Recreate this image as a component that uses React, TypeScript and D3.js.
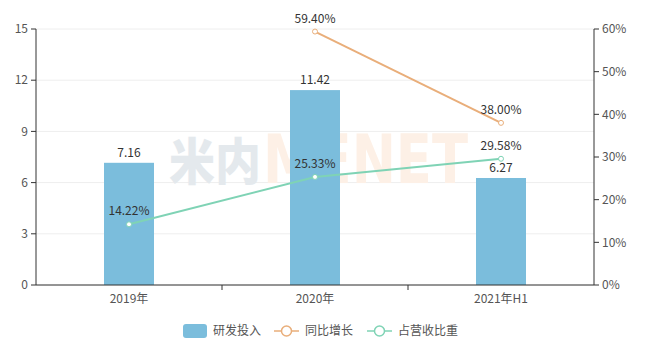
import React from "react";
import * as d3 from "d3";

const categories = ["2019年", "2020年", "2021年H1"];
const rdInvest = [7.16, 11.42, 6.27];
const yoyGrowth: (number | null)[] = [null, 59.4, 38.0];
const revenueShare = [14.22, 25.33, 29.58];
const leftTicks = [0, 3, 6, 9, 12, 15];
const rightTicks = [0, 10, 20, 30, 40, 50, 60];
const legendLabels = ["研发投入", "同比增长", "占营收比重"];

const W = 658, H = 358;
const M = { left: 36, right: 64, top: 29, bottom: 73 };
const BAR = "#7bbddc", ORANGE = "#e9ae7a", GREEN = "#7fd3b5";
const FONT = "'Noto Sans CJK SC', 'Noto Sans', sans-serif";

export default function App() {
  const x = d3.scaleBand().domain(categories).range([M.left, W - M.right]);
  const yL = d3.scaleLinear().domain([0, 15]).range([H - M.bottom, M.top]);
  const yR = d3.scaleLinear().domain([0, 60]).range([H - M.bottom, M.top]);
  const cx = (c: string) => (x(c) as number) + x.bandwidth() / 2;
  const barW = 50;
  const y0 = H - M.bottom;

  const yoyPts = categories.map((c, i) => ({ c, v: yoyGrowth[i] })).filter((d) => d.v != null) as { c: string; v: number }[];
  const sharePts = categories.map((c, i) => ({ c, v: revenueShare[i] }));
  const line = d3.line<{ c: string; v: number }>().x((d) => cx(d.c)).y((d) => yR(d.v));

  const textCol = "#555";
  return (
    <svg width={W} height={H} style={{ position: "absolute", left: 0, top: 0, fontFamily: FONT }}>
      <rect width={W} height={H} fill="#fff" />
      {/* grid */}
      {leftTicks.map((t) => (
        <line key={t} x1={M.left} x2={W - M.right} y1={yL(t)} y2={yL(t)} stroke="#eeeeee" />
      ))}
      {/* watermark */}
      <text x={169} y={180} fontSize={50} fontWeight="900" fill="#e4e9ed" fontFamily={FONT}
        textLength={92} lengthAdjust="spacingAndGlyphs">米内</text>
      <text x={263} y={183} fontSize={68} fontWeight="bold" fill="#fdf0e6" fontFamily="'DejaVu Sans', sans-serif"
        textLength={205} lengthAdjust="spacingAndGlyphs">MENET</text>
      {/* bars */}
      {categories.map((c, i) => (
        <g key={c}>
          <rect x={cx(c) - barW / 2} y={yL(rdInvest[i])} width={barW} height={y0 - yL(rdInvest[i])} fill={BAR} />
          <text x={cx(c)} y={yL(rdInvest[i]) - 6} textAnchor="middle" fontSize={12} fill="#333">{rdInvest[i].toFixed(2)}</text>
        </g>
      ))}
      {/* lines */}
      <path d={line(yoyPts) || ""} fill="none" stroke={ORANGE} strokeWidth={2} />
      <path d={line(sharePts) || ""} fill="none" stroke={GREEN} strokeWidth={2} />
      {yoyPts.map((d) => (
        <g key={"o" + d.c}>
          <circle cx={cx(d.c)} cy={yR(d.v)} r={2.5} fill="#fff" stroke={ORANGE} strokeWidth={1} />
          <text x={cx(d.c)} y={yR(d.v) - 9} textAnchor="middle" fontSize={12} fill="#333">{d.v.toFixed(2)}%</text>
        </g>
      ))}
      {sharePts.map((d) => (
        <g key={"g" + d.c}>
          <circle cx={cx(d.c)} cy={yR(d.v)} r={2.5} fill="#fff" stroke={GREEN} strokeWidth={1} />
          <text x={cx(d.c)} y={yR(d.v) - 9} textAnchor="middle" fontSize={12} fill="#333">{d.v.toFixed(2)}%</text>
        </g>
      ))}
      {/* left axis */}
      <line x1={M.left} x2={M.left} y1={M.top} y2={y0} stroke="#333" />
      {leftTicks.map((t) => (
        <g key={"l" + t}>
          <line x1={M.left - 5} x2={M.left} y1={yL(t)} y2={yL(t)} stroke="#333" />
          <text x={M.left - 8} y={yL(t)} dy="0.35em" textAnchor="end" fontSize={12} fill={textCol}>{t}</text>
        </g>
      ))}
      {/* right axis */}
      <line x1={W - M.right} x2={W - M.right} y1={M.top} y2={y0} stroke="#333" />
      {rightTicks.map((t) => (
        <g key={"r" + t}>
          <line x1={W - M.right} x2={W - M.right + 5} y1={yR(t)} y2={yR(t)} stroke="#333" />
          <text x={W - M.right + 8} y={yR(t)} dy="0.35em" textAnchor="start" fontSize={12} fill={textCol}>{t}%</text>
        </g>
      ))}
      {/* x axis */}
      <line x1={M.left} x2={W - M.right} y1={y0} y2={y0} stroke="#333" />
      {categories.map((c, i) => (
        <g key={"x" + c}>
          {i > 0 && <line x1={x(c)} x2={x(c)} y1={y0} y2={y0 + 5} stroke="#333" />}
          <text x={cx(c)} y={y0 + 14} dy="0.35em" textAnchor="middle" fontSize={12} fill={textCol}>{c}</text>
        </g>
      ))}
      {/* legend */}
      <g fontSize={12} fill={textCol}>
        <rect x={183} y={324} width={24} height={14} rx={3} fill={BAR} />
        <text x={213} y={331} dy="0.35em" fill={textCol}>{legendLabels[0]}</text>
        <line x1={274} x2={299} y1={331} y2={331} stroke={ORANGE} strokeWidth={1.5} />
        <circle cx={286.5} cy={331} r={5} fill="#fff" stroke={ORANGE} strokeWidth={1.5} />
        <text x={305} y={331} dy="0.35em" fill={textCol}>{legendLabels[1]}</text>
        <line x1={367} x2={392} y1={331} y2={331} stroke={GREEN} strokeWidth={1.5} />
        <circle cx={379.5} cy={331} r={5} fill="#fff" stroke={GREEN} strokeWidth={1.5} />
        <text x={398} y={331} dy="0.35em" fill={textCol}>{legendLabels[2]}</text>
      </g>
    </svg>
  );
}
